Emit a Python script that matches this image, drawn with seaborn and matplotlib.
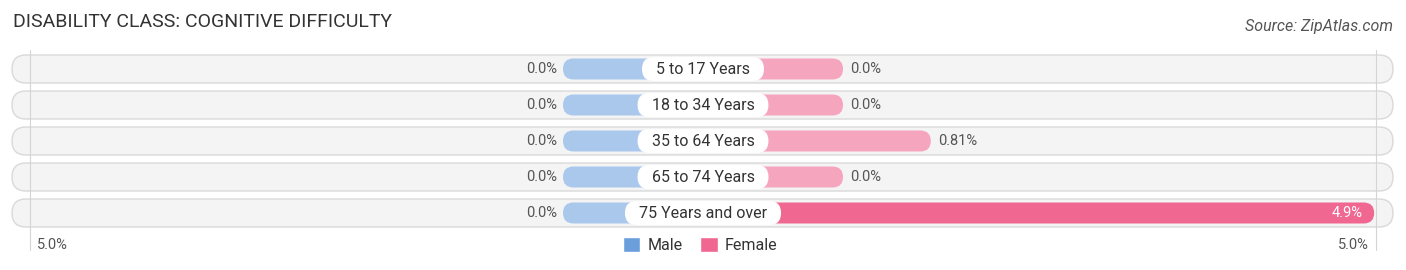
import matplotlib
matplotlib.use("Agg")
import matplotlib.pyplot as plt
import seaborn as sns
import pandas as pd
from matplotlib.patches import FancyBboxPatch, Patch

groups = ["5 to 17 Years", "18 to 34 Years", "35 to 64 Years", "65 to 74 Years", "75 Years and over"]
male = [0.0, 0.0, 0.0, 0.0, 0.0]
female = [0.0, 0.0, 0.81, 0.0, 4.9]
male_labels = ["0.0%", "0.0%", "0.0%", "0.0%", "0.0%"]
female_labels = ["0.0%", "0.0%", "0.81%", "0.0%", "4.9%"]

# layout (pixel-based, figure is 1406x270 at 100 dpi)
PX = 108.4          # px per percent point
OFFSET = 140 / PX   # minimum bar length under the label
ROW = 36            # px between rows
Y0 = 69             # px of first row centre

sns.set_style("white")
plt.rcParams["font.family"] = ["Roboto", "DejaVu Sans"]

fig = plt.figure(figsize=(14.06, 2.70), dpi=100)
ax = fig.add_axes([0, 0, 1, 1])

df = pd.DataFrame({
    "group": groups * 2,
    "sex": ["Male"] * 5 + ["Female"] * 5,
    "disp": [-(OFFSET + v) for v in male] + [OFFSET + v for v in female],
    "value": male + female,
})
female_colors = ["#f06892" if v > 3 else "#f6a5bf" for v in female]
colors = ["#a9c8ec"] * 5 + female_colors

bar_h = 21 / ROW
sns.barplot(data=df, y="group", x="disp", hue="sex", dodge=False, orient="h",
            width=bar_h, legend=False, ax=ax, zorder=1)

ax.set_xlim(-703 / PX, 703 / PX)
ax.set_ylim((270 - Y0) / ROW, -Y0 / ROW)
ax.axis("off")
aspect = PX / ROW

# replace rectangles with rounded bars
rects = list(ax.patches)
for p, c in zip(rects, colors):
    x, y, w, h = p.get_x(), p.get_y(), p.get_width(), p.get_height()
    if w < 0:
        x, w = x + w, -w
    p.remove()
    ax.add_patch(FancyBboxPatch((x, y), w, h,
                                boxstyle=f"round,pad=0,rounding_size={10.5 / PX}",
                                mutation_aspect=aspect, facecolor=c,
                                edgecolor="none", zorder=1))

# background pills
for i in range(len(groups)):
    h = 28 / ROW
    ax.add_patch(FancyBboxPatch((-691 / PX, i - h / 2), 1381 / PX, h,
                                boxstyle=f"round,pad=0,rounding_size={14 / PX}",
                                mutation_aspect=aspect, facecolor="#f4f4f4",
                                edgecolor="#d9d9d9", linewidth=1.0, zorder=0))

# edge gridlines
for side in (-1, 1):
    ax.plot([side * 673 / PX] * 2, [(50 - Y0) / ROW, (250 - Y0) / ROW],
            color="#d4d4d4", linewidth=0.8, zorder=0.5)

# value labels and category labels
renderer = fig.canvas.get_renderer()
for i, g in enumerate(groups):
    mx = -(OFFSET + male[i])
    ax.text(mx - 6 / PX, i, male_labels[i], ha="right", va="center",
            fontsize=10.5, color="#555555")
    fx = OFFSET + female[i]
    if female[i] > 3:
        ax.text(fx - 12 / PX, i, female_labels[i], ha="right", va="center",
                fontsize=10.5, color="white")
    else:
        ax.text(fx + 7 / PX, i, female_labels[i], ha="left", va="center",
                fontsize=10.5, color="#555555")
    t = ax.text(0, i, g, ha="center", va="center", fontsize=11.5, color="#333333",
                zorder=3)
    tw = t.get_window_extent(renderer).width
    bw = (tw + 28) / PX
    bh = 24 / ROW
    ax.add_patch(FancyBboxPatch((-bw / 2, i - bh / 2), bw, bh,
                                boxstyle=f"round,pad=0,rounding_size={12 / PX}",
                                mutation_aspect=aspect, facecolor="white",
                                edgecolor="none", zorder=2))

# axis tick labels
ty = (245 - Y0) / ROW
ax.text(-666 / PX, ty, "5.0%", ha="left", va="center", fontsize=10.5, color="#555555")
ax.text(666 / PX, ty, "5.0%", ha="right", va="center", fontsize=10.5, color="#555555")

# legend
handles = [Patch(facecolor="#6a9fdc", label="Male"),
           Patch(facecolor="#f06892", label="Female")]
ax.legend(handles=handles, loc="center", bbox_to_anchor=(700 / 1406, 1 - 245 / 270),
          ncol=2, frameon=False, fontsize=11.5, handlelength=1.1, handleheight=1.1,
          handletextpad=0.45, columnspacing=1.1, labelcolor="#333333")

fig.text(13 / 1406, 1 - 22 / 270, "DISABILITY CLASS: COGNITIVE DIFFICULTY",
         ha="left", va="center", fontsize=14, color="#333333")
fig.text(1393 / 1406, 1 - 26 / 270, "Source: ZipAtlas.com", ha="right", va="center",
         fontsize=11.5, color="#555555", style="italic")

fig.savefig("out.png", dpi=100)
